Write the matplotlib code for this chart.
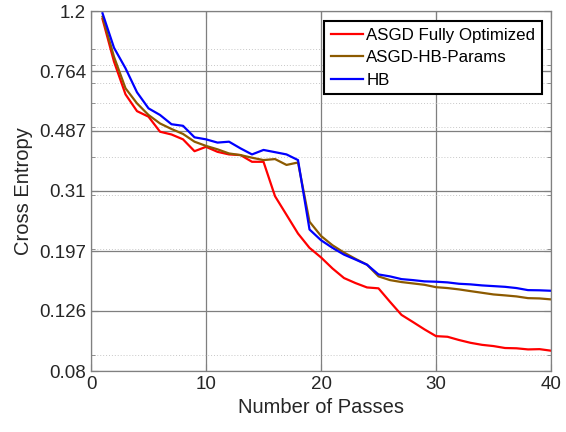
import numpy as np
import matplotlib
matplotlib.use("Agg")
import matplotlib.pyplot as plt
from matplotlib.ticker import FixedLocator, FixedFormatter, NullFormatter

plt.rcParams['font.family'] = ['Liberation Sans', 'DejaVu Sans']

passes = np.arange(1, 41)

asgd_full = [1.13, 0.82, 0.641, 0.565, 0.542, 0.484, 0.474, 0.457, 0.418, 0.432,
             0.416, 0.408, 0.406, 0.386, 0.386, 0.298, 0.259, 0.225, 0.202, 0.188,
             0.173, 0.161, 0.155, 0.150, 0.149, 0.1346, 0.122, 0.1156, 0.1094, 0.104,
             0.1035, 0.101, 0.0989, 0.0974, 0.0965, 0.0951, 0.0949, 0.0941, 0.0943, 0.0932]

asgd_hb = [1.15, 0.85, 0.671, 0.599, 0.549, 0.515, 0.494, 0.476, 0.449, 0.435,
           0.424, 0.411, 0.406, 0.398, 0.391, 0.394, 0.377, 0.384, 0.246, 0.221,
           0.206, 0.195, 0.186, 0.178, 0.163, 0.1585, 0.1562, 0.1546, 0.1530, 0.1503,
           0.1493, 0.1478, 0.1459, 0.1441, 0.1423, 0.1413, 0.1402, 0.1384, 0.1381, 0.1371]

hb = [1.18, 0.91, 0.780, 0.651, 0.577, 0.549, 0.512, 0.506, 0.464, 0.457,
      0.446, 0.449, 0.427, 0.408, 0.422, 0.415, 0.408, 0.391, 0.232, 0.214,
      0.202, 0.192, 0.185, 0.178, 0.1654, 0.163, 0.1597, 0.1585, 0.1570, 0.1566,
      0.1558, 0.1542, 0.1535, 0.1523, 0.1515, 0.1507, 0.1493, 0.1470, 0.1468, 0.1463]

series = [("ASGD Fully Optimized", asgd_full, "#ff0000"),
          ("ASGD-HB-Params", asgd_hb, "#8c5a00"),
          ("HB", hb, "#0000ff")]

yticks = [0.08, 0.126, 0.197, 0.31, 0.487, 0.764, 1.2]
yticklabels = ["0.08", "0.126", "0.197", "0.31", "0.487", "0.764", "1.2"]
yminor = [0.09, 0.2, 0.3, 0.4, 0.5, 0.6, 0.7, 0.8, 0.9]
xticks = [0, 10, 20, 30, 40]

fig = plt.figure(figsize=(5.66, 4.32), dpi=100)
ax = fig.add_axes([0.1608, 0.1412, 0.8127, 0.8333])

for label, vals, col in series:
    ax.plot(passes, vals, color=col, lw=1.6, label=label)

ax.set_yscale("log")
ax.set_xlim(0, 40)
ax.set_ylim(0.08, 1.2)
ax.yaxis.set_major_locator(FixedLocator(yticks))
ax.yaxis.set_major_formatter(FixedFormatter(yticklabels))
ax.yaxis.set_minor_locator(FixedLocator(yminor))
ax.yaxis.set_minor_formatter(NullFormatter())
ax.set_xticks(xticks)

ax.grid(True, which="major", color="#7f7f7f", lw=0.9, ls="-")
ax.grid(True, which="minor", axis="y", color="#c8c8c8", lw=0.7, ls=(0, (1, 2)))
ax.set_axisbelow(True)

for sp in ax.spines.values():
    sp.set_color("#808080")
    sp.set_linewidth(0.9)
ax.tick_params(which="both", direction="in", top=True, right=True,
               colors="#808080", labelcolor="#262626", labelsize=13.5)
ax.tick_params(which="major", length=5)
ax.tick_params(which="minor", length=3)

ax.set_xlabel("Number of Passes", fontsize=14.5, color="#262626")
ax.set_ylabel("Cross Entropy", fontsize=14.5, color="#262626")

leg = ax.legend(loc="upper right", bbox_to_anchor=(0.980, 0.972), borderaxespad=0,
                fontsize=12.2, fancybox=False, framealpha=1, edgecolor="black",
                handlelength=1.9, handletextpad=0.2, labelspacing=0.45,
                borderpad=0.38)
leg.get_frame().set_linewidth(1.5)

fig.savefig("out.png", dpi=100)
